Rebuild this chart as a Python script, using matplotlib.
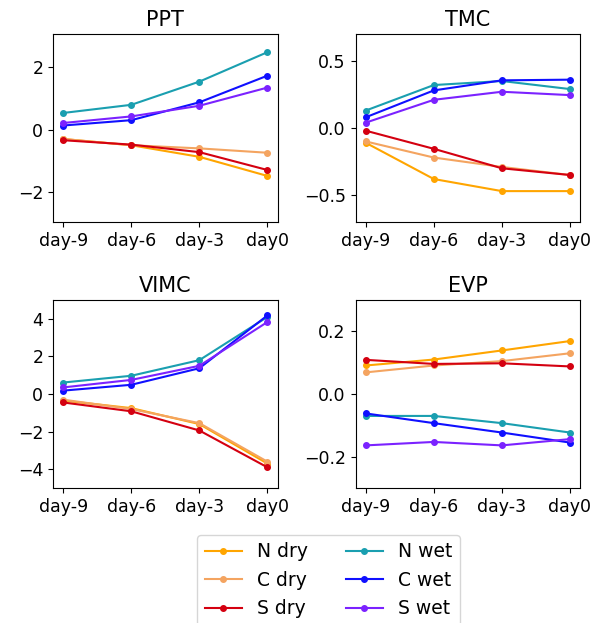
import matplotlib
matplotlib.use("Agg")
import matplotlib.pyplot as plt

days = ["day-9", "day-6", "day-3", "day0"]
series = ["N dry", "C dry", "S dry", "N wet", "C wet", "S wet"]
colors = ["orange", "sandybrown", "#d40010", "#1a9fb0", "#1010ff", "#7b22ff"]

# one list per series, in the order of `series`
ppt = [
    [-0.30, -0.50, -0.87, -1.48],
    [-0.30, -0.50, -0.60, -0.74],
    [-0.34, -0.48, -0.72, -1.29],
    [0.53, 0.79, 1.53, 2.47],
    [0.13, 0.30, 0.87, 1.72],
    [0.21, 0.42, 0.76, 1.34],
]
tmc = [
    [-0.11, -0.38, -0.47, -0.47],
    [-0.10, -0.22, -0.29, -0.35],
    [-0.02, -0.155, -0.30, -0.35],
    [0.13, 0.32, 0.35, 0.29],
    [0.08, 0.28, 0.355, 0.36],
    [0.04, 0.21, 0.27, 0.245],
]
vimc = [
    [-0.35, -0.75, -1.60, -3.70],
    [-0.30, -0.80, -1.55, -3.60],
    [-0.45, -0.92, -1.94, -3.90],
    [0.61, 0.97, 1.80, 4.10],
    [0.18, 0.49, 1.37, 4.18],
    [0.35, 0.75, 1.50, 3.83],
]
evp = [
    [0.091, 0.110, 0.139, 0.169],
    [0.069, 0.091, 0.105, 0.130],
    [0.109, 0.096, 0.098, 0.088],
    [-0.070, -0.070, -0.093, -0.123],
    [-0.062, -0.093, -0.123, -0.155],
    [-0.164, -0.153, -0.164, -0.144],
]

panels = [("PPT", ppt, (-2.95, 3.05)), ("TMC", tmc, (-0.7, 0.7)),
          ("VIMC", vimc, (-5, 5)), ("EVP", evp, (-0.3, 0.3))]

fig, axs = plt.subplots(2, 2, figsize=(5.92, 6.23), dpi=100)
fig.subplots_adjust(left=0.0895, right=0.98, top=0.9454, bottom=0.2167,
                    wspace=0.347, hspace=0.415)

for ax, (name, vals, ylim) in zip(axs.flat, panels):
    for lab, col, v in zip(series, colors, vals):
        ax.plot(days, v, "-o", color=col, ms=4, label=lab)
    ax.set_ylim(*ylim)
    ax.set_title(name, fontsize=15)
    ax.tick_params(labelsize=12.5)

h, l = axs[0, 0].get_legend_handles_labels()
fig.legend(h, l, ncol=2, loc="upper left", bbox_to_anchor=(0.3328, 0.1413),
           fontsize=13.5, borderaxespad=0)

fig.savefig("out.png")
